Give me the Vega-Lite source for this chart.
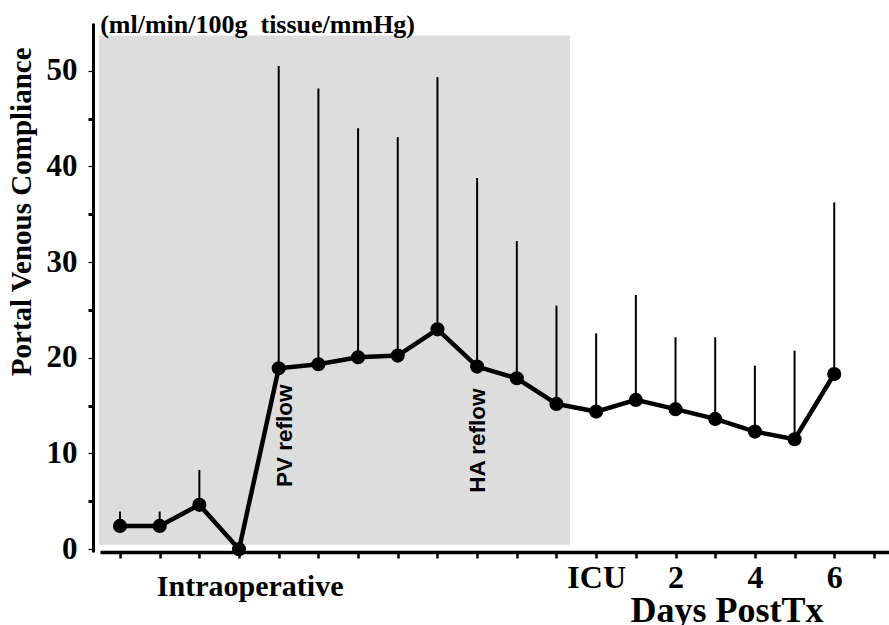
{
  "$schema": "https://vega.github.io/schema/vega-lite/v6.json",
  "width": 789,
  "height": 529,
  "autosize": {"type": "none"},
  "padding": {"left": 100, "top": 23, "right": 0, "bottom": 73},
  "background": "white",
  "config": {"view": {"stroke": null}, "font": "Liberation Serif"},
  "datasets": {
    "compliance": [
      {"t": 1, "mean": 2.43, "upper": 3.93},
      {"t": 2, "mean": 2.43, "upper": 3.93},
      {"t": 3, "mean": 4.63, "upper": 8.28},
      {"t": 4, "mean": 0, "upper": 0},
      {"t": 5, "mean": 18.9, "upper": 50.5},
      {"t": 6, "mean": 19.33, "upper": 48.16},
      {"t": 7, "mean": 20.06, "upper": 44.0},
      {"t": 8, "mean": 20.23, "upper": 43.07},
      {"t": 9, "mean": 22.98, "upper": 49.34},
      {"t": 10, "mean": 19.08, "upper": 38.8},
      {"t": 11, "mean": 17.86, "upper": 32.2},
      {"t": 12, "mean": 15.18, "upper": 25.45},
      {"t": 13, "mean": 14.38, "upper": 22.57},
      {"t": 14, "mean": 15.6, "upper": 26.57},
      {"t": 15, "mean": 14.63, "upper": 22.15},
      {"t": 16, "mean": 13.61, "upper": 22.15},
      {"t": 17, "mean": 12.29, "upper": 19.18},
      {"t": 18, "mean": 11.49, "upper": 20.75},
      {"t": 19, "mean": 18.31, "upper": 36.25}
    ],
    "phase": [{"start": 0.47, "end": 12.34, "low": 0.45, "high": 53.7}],
    "notes": [
      {"x": 5.17, "y": 6.5, "text": "PV reflow"},
      {"x": 10.03, "y": 5.9, "text": "HA reflow"}
    ],
    "period": [{"x": 4.28, "y": -4.95, "text": "Intraoperative"}],
    "units": [{"x": 0.5, "y": 53.94, "text": "(ml/min/100g\u00a0 tissue/mmHg)"}]
  },
  "layer": [
    {
      "data": {"name": "phase"},
      "mark": {"type": "rect", "color": "#dddddd"},
      "encoding": {
        "x": {
          "field": "start",
          "type": "quantitative",
          "scale": {"domain": [0.496, 20.38], "nice": false, "zero": false},
          "axis": {
            "title": "Days PostTx",
            "values": [1,2,3,4,5,6,7,8,9,10,11,12,13,14,15,16,17,18,19,20],
            "grid": false,
            "domainColor": "black",
            "domainWidth": 3.5,
            "tickColor": "black",
            "tickWidth": 2.5,
            "tickSize": 6,
            "labelExpr": "datum.value == 13 ? 'ICU' : datum.value == 15 ? '2' : datum.value == 17 ? '4' : datum.value == 19 ? '6' : ''",
            "labelFont": "Liberation Serif",
            "labelFontSize": 32,
            "labelFontWeight": "bold",
            "labelColor": "black",
            "labelPadding": 4,
            "labelFlush": false,
            "labelOverlap": false,
            "titleFont": "Liberation Serif",
            "titleFontSize": 36,
            "titleFontWeight": "bold",
            "titleColor": "black",
            "titleX": 626.5,
            "titleY": 69,
            "titleAlign": "center",
            "titleBaseline": "alphabetic"
          }
        },
        "x2": {"field": "end"},
        "y": {
          "field": "low",
          "type": "quantitative",
          "scale": {"domain": [-0.3, 55], "nice": false, "zero": false},
          "axis": {
            "title": "Portal Venous Compliance",
            "values": [0,5,10,15,20,25,30,35,40,45,50],
            "offset": 7,
            "grid": false,
            "domainColor": "black",
            "domainWidth": 3,
            "tickColor": "black",
            "tickSize": 5,
            "tickWidth": {"condition": {"test": "datum.value % 10 !== 0", "value": 3}, "value": 1.2},
            "labelExpr": "datum.value % 10 === 0 ? datum.label : ''",
            "labelFont": "Liberation Serif",
            "labelFontSize": 31,
            "labelFontWeight": "bold",
            "labelColor": "black",
            "labelPadding": 11,
            "labelBaseline": "middle",
            "labelOverlap": false,
            "labelFlush": false,
            "titleFont": "Liberation Serif",
            "titleFontSize": 29,
            "titleFontWeight": "bold",
            "titleColor": "black",
            "titleAngle": 270,
            "titleAlign": "right",
            "titleBaseline": "alphabetic",
            "titleX": -63,
            "titleY": 24
          }
        },
        "y2": {"field": "high"}
      }
    },
    {
      "data": {"name": "compliance"},
      "mark": {"type": "rule", "color": "black", "strokeWidth": 2},
      "encoding": {
        "x": {"field": "t", "type": "quantitative"},
        "y": {"field": "mean", "type": "quantitative"},
        "y2": {"field": "upper"}
      }
    },
    {
      "data": {"name": "compliance"},
      "mark": {"type": "line", "color": "black", "strokeWidth": 4.5},
      "encoding": {
        "x": {"field": "t", "type": "quantitative"},
        "y": {"field": "mean", "type": "quantitative"}
      }
    },
    {
      "data": {"name": "compliance"},
      "mark": {"type": "point", "filled": true, "color": "black", "opacity": 1, "size": 200},
      "encoding": {
        "x": {"field": "t", "type": "quantitative"},
        "y": {"field": "mean", "type": "quantitative"}
      }
    },
    {
      "data": {"name": "notes"},
      "mark": {"type": "text", "angle": 270, "align": "left", "baseline": "middle", "font": "Liberation Sans", "fontWeight": "bold", "fontSize": 22.5, "color": "black"},
      "encoding": {
        "x": {"field": "x", "type": "quantitative"},
        "y": {"field": "y", "type": "quantitative"},
        "text": {"field": "text"}
      }
    },
    {
      "data": {"name": "period"},
      "mark": {"type": "text", "align": "center", "baseline": "alphabetic", "font": "Liberation Serif", "fontWeight": "bold", "fontSize": 30, "color": "black"},
      "encoding": {
        "x": {"field": "x", "type": "quantitative"},
        "y": {"field": "y", "type": "quantitative"},
        "text": {"field": "text"}
      }
    },
    {
      "data": {"name": "units"},
      "mark": {"type": "text", "align": "left", "baseline": "alphabetic", "font": "Liberation Serif", "fontWeight": "bold", "fontSize": 26, "color": "black"},
      "encoding": {
        "x": {"field": "x", "type": "quantitative"},
        "y": {"field": "y", "type": "quantitative"},
        "text": {"field": "text"}
      }
    }
  ]
}
